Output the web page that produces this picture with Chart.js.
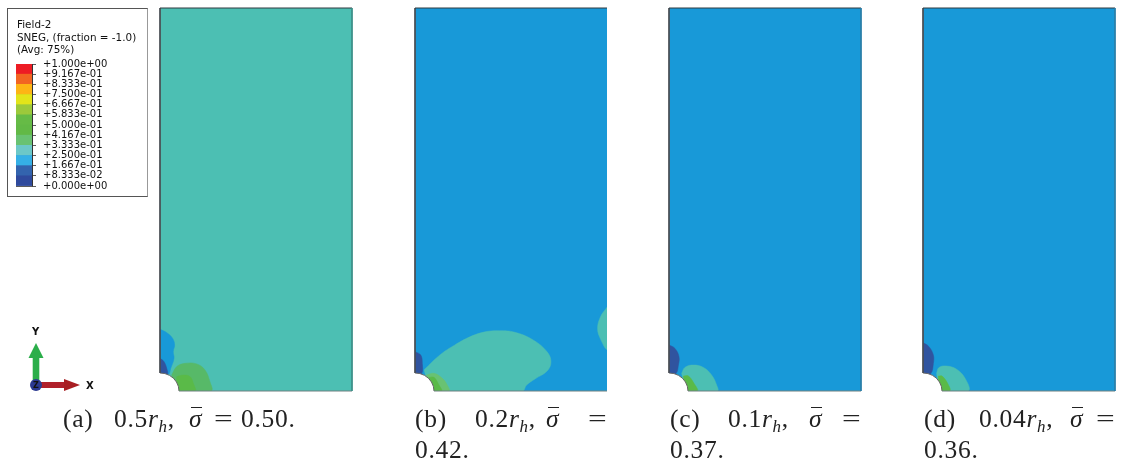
<!DOCTYPE html>
<html>
<head>
<meta charset="utf-8">
<title>SNEG contours</title>
<script src="https://cdn.jsdelivr.net/npm/chart.js@4"></script>
<style>
  html, body { margin: 0; padding: 0; background: #fff; }
  body { position: relative; width: 1126px; height: 462px; overflow: hidden; }
  canvas { position: absolute; filter: blur(0.45px); }
  .box { position: absolute; left: 7px; top: 8px; width: 139px; height: 187px; border: 1px solid #555; border-right-color: #999; }
  .t { position: absolute; white-space: nowrap; line-height: 1; filter: blur(0.3px); }
  .leg { font: 10.4px "DejaVu Sans", sans-serif; color: #111; }
  .axis { font: bold 10px "DejaVu Sans", sans-serif; color: #111; }
  .cap { font: 25.5px "Liberation Serif", serif; letter-spacing: 0.7px; color: #222; }
  .cap i sub { font-size: 17px; line-height: 0; vertical-align: -5px; }
  .bar { position: relative; display: inline-block; font-style: italic; }
  .bar::before { content: ""; position: absolute; left: 2px; right: 0; top: 3px; height: 1px; background: #222; }
  .eq { transform: scaleX(1.3); transform-origin: left center; }
</style>
</head>
<body>
<div class="box"></div>
<canvas id="legendBar" style="left:10px;top:51px"></canvas>
<canvas id="triad" style="left:20px;top:335px"></canvas>
<canvas id="panelA" style="left:159px;top:7px"></canvas>
<canvas id="panelB" style="left:414px;top:7px"></canvas>
<canvas id="panelC" style="left:668px;top:7px"></canvas>
<canvas id="panelD" style="left:922px;top:7px"></canvas>

<div class="t leg" style="left:17px;top:18px">Field-2</div>
<div class="t leg" style="left:17px;top:31px">SNEG, (fraction = -1.0)</div>
<div class="t leg" style="left:17px;top:43px">(Avg: 75%)</div>

<div class="t axis" style="left:32px;top:326px">Y</div>
<div class="t axis" style="left:86px;top:380px">X</div>
<div class="t axis" style="left:33px;top:381px;font-size:8px">Z</div>

<div class="t cap" style="left:63px;top:404px">(a)</div>
<div class="t cap" style="left:114px;top:404px">0.5<i>r<sub>h</sub></i>,</div>
<div class="t cap" style="left:189px;top:404px"><span class="bar">σ</span></div>
<div class="t cap eq" style="left:214px;top:404px">=</div>
<div class="t cap" style="left:241px;top:404px">0.50.</div>

<div class="t cap" style="left:415px;top:404px">(b)</div>
<div class="t cap" style="left:475px;top:404px">0.2<i>r<sub>h</sub></i>,</div>
<div class="t cap" style="left:546px;top:404px"><span class="bar">σ</span></div>
<div class="t cap eq" style="left:588px;top:404px">=</div>
<div class="t cap" style="left:415px;top:435px">0.42.</div>

<div class="t cap" style="left:670px;top:404px">(c)</div>
<div class="t cap" style="left:728px;top:404px">0.1<i>r<sub>h</sub></i>,</div>
<div class="t cap" style="left:809px;top:404px"><span class="bar">σ</span></div>
<div class="t cap eq" style="left:842px;top:404px">=</div>
<div class="t cap" style="left:670px;top:435px">0.37.</div>

<div class="t cap" style="left:924px;top:404px">(d)</div>
<div class="t cap" style="left:979px;top:404px">0.04<i>r<sub>h</sub></i>,</div>
<div class="t cap" style="left:1070px;top:404px"><span class="bar">σ</span></div>
<div class="t cap eq" style="left:1096px;top:404px">=</div>
<div class="t cap" style="left:924px;top:435px">0.36.</div>

<script>
// colour bar
const levelValues = [0, 0.08333, 0.1667, 0.25, 0.3333, 0.4167, 0.5, 0.5833, 0.6667, 0.75, 0.8333, 0.9167, 1];
const tickLabels = ['+0.000e+00', '+8.333e-02', '+1.667e-01', '+2.500e-01', '+3.333e-01', '+4.167e-01',
  '+5.000e-01', '+5.833e-01', '+6.667e-01', '+7.500e-01', '+8.333e-01', '+9.167e-01', '+1.000e+00'];
const levelColors = ['#2f4a9d', '#3364ae', '#35b0e6', '#6cc8c8', '#69c272', '#62b946',
  '#66bb46', '#9cc93b', '#e3e41a', '#fdb515', '#f26522', '#ed1c24'];

const teal = '#4cbfb3';
const blue = '#1899d8';
const darkBlue = '#30549f';
const softGreen = '#57b968';
const green = '#5aba48';

// outlines in model units, hole centre at 0,0
const plate = [[0, 0], [100, 0], [100, 199.5], [0, 199.5]];
const hole = [[9.9, 0], [9.56, 2.43], [8.57, 4.7], [7, 6.65], [4.95, 8.14], [2.56, 9.08], [0, 9.4], [0, 0]];
const holeArc = [[9.9, 0], [9.56, 2.43], [8.57, 4.7], [7, 6.65], [4.95, 8.14], [2.56, 9.08], [0, 9.4]];
const leftEdge = [[0, 199.5], [0, 9.4]];
const bottomEdge = [[9.9, 0], [100, 0]];
const topEdge = [[0, 199.5], [100, 199.5]];
const rightEdge = [[100, 199.5], [100, 0]];

const aLightBlue = [[0, 32.1], [3.5, 30.4], [6.6, 27.4], [7.6, 23.9], [6.9, 20.5], [7.3, 17], [5.6, 11.8], [4.3, 8.5], [0, 8]];
const aDarkBlue = [[0, 17], [2.1, 15.3], [3.5, 11.8], [3.8, 8.5], [0, 8]];
const aOuterGreen = [[6.1, 8.3], [8.7, 12.7], [13, 14.4], [19.1, 14.1], [23.4, 11], [26, 4.9], [26.6, 0], [9, 0]];
const aInnerGreen = [[8.7, 7.5], [12.2, 8.3], [15.6, 7.5], [17.4, 3.9], [18.2, 0], [9, 0]];

const bTeal = [[4.7, 11], [13, 18.8], [20.8, 24], [28.6, 28.2], [36.5, 30.8], [44, 31.4], [52, 30.6], [61.5, 26.6],
  [68.8, 20.4], [70.8, 15.1], [68.8, 10.4], [62.5, 6.3], [58, 3], [56, 0], [9, 0]];
const bBulge = [[100, 43.6], [96.7, 38.8], [95.1, 32.6], [96.7, 26.9], [100, 21.9]];
const bDarkBlue = [[0, 20.5], [3, 18.7], [3.8, 14.4], [3.5, 9], [0, 8]];
const bOuterGreen = [[5.9, 8.3], [9.9, 9.2], [14.2, 6.6], [16.8, 3.1], [17.7, 0], [9, 0]];
const bInnerGreen = [[7.3, 7.1], [9.9, 7.1], [12.5, 3.1], [13.9, 0], [9, 0]];

const cDarkBlue = [[0, 24], [3.1, 22.2], [5.2, 17.9], [4.9, 13.5], [3.6, 9], [0, 8]];
const cTeal = [[6.6, 9.2], [8.3, 12.3], [12.7, 13.5], [17.9, 12.3], [22.2, 8.3], [24.8, 3.1], [25.2, 0], [9, 0]];
const cGreen = [[7.5, 7.8], [10.1, 7.8], [13, 4], [14.8, 0], [9, 0]];

const dDarkBlue = [[0, 25.2], [3.1, 23.1], [5.4, 18.7], [5.4, 14.4], [4, 9], [0, 8]];
const dTeal = [[7.1, 9.2], [8.3, 12.2], [12.3, 13], [17.5, 11.3], [21.9, 6.6], [23.6, 0], [9, 0]];
const dGreen = [[7.9, 7.8], [9.9, 7.8], [12.8, 4], [14, 0], [9, 0]];

// triad arrows, origin at the Z dot
const yShaft = [[-3.3, 0], [3.3, 0], [3.3, 27], [-3.3, 27]];
const yHead = [[-7.5, 27], [7.5, 27], [0, 42]];
const xShaft = [[0, -3], [28, -3], [28, 3], [0, 3]];
const xHead = [[28, -6], [44, 0], [28, 6]];
const zDot = [[0, 0]];

function shape(points, color, edge, width) {
  return {
    data: points.concat([points[0]]).map(p => ({ x: p[0], y: p[1] })),
    showLine: true,
    fill: 'shape',
    backgroundColor: color,
    borderColor: edge || color,
    borderWidth: width === undefined ? 0.5 : width,
    pointRadius: 0,
    tension: 0.4
  };
}

function stroke(points, color, width) {
  return {
    data: points.map(p => ({ x: p[0], y: p[1] })),
    showLine: true,
    fill: false,
    borderColor: color,
    borderWidth: width,
    pointRadius: 0,
    tension: 0,
    clip: false
  };
}

function panel(id, base, regions, rightColor) {
  const canvas = document.getElementById(id);
  canvas.width = 194;
  canvas.height = 385;
  canvas.style.width = '194px';
  canvas.style.height = '385px';
  const list = [shape(plate, base, base, 0)];
  list[0].tension = 0;
  regions.forEach(r => list.push(shape(r[0], r[1])));
  const h = shape(hole, '#ffffff', '#ffffff', 0);
  h.tension = 0;
  list.push(h);
  list.push(stroke(holeArc, '#666666', 1));
  list.push(stroke(leftEdge, '#4a4f55', 1));
  list.push(stroke(bottomEdge, '#6f8080', 1));
  list.push(stroke(topEdge, '#2f3a40', 1));
  if (rightColor) list.push(stroke(rightEdge, rightColor, 1));
  new Chart(canvas, {
    type: 'scatter',
    data: { datasets: list.reverse() },
    options: {
      responsive: false,
      animation: false,
      layout: { padding: 1, autoPadding: false },
      plugins: { legend: { display: false }, tooltip: { enabled: false } },
      scales: {
        x: { type: 'linear', min: 0, max: 100, display: false },
        y: { type: 'linear', min: 0, max: 199.5, display: false }
      }
    }
  });
}

panel('panelA', teal, [
  [aLightBlue, blue], [aDarkBlue, darkBlue], [aOuterGreen, softGreen], [aInnerGreen, green]
], '#3c8f88');
panel('panelB', blue, [
  [bTeal, teal], [bBulge, teal], [bDarkBlue, darkBlue], [bOuterGreen, '#69c272'], [bInnerGreen, green]
], null);
panel('panelC', blue, [
  [cDarkBlue, darkBlue], [cTeal, teal], [cGreen, green]
], '#2a7fa8');
panel('panelD', blue, [
  [dDarkBlue, darkBlue], [dTeal, teal], [dGreen, green]
], '#2a7fa8');

// legend colour bar, axis ticks carry the level labels
const barCanvas = document.getElementById('legendBar');
barCanvas.width = 110;
barCanvas.height = 148;
barCanvas.style.width = '110px';
barCanvas.style.height = '148px';
new Chart(barCanvas, {
  type: 'bar',
  data: {
    labels: ['SNEG'],
    datasets: levelColors.map((c, i) => ({
      data: [[levelValues[i], levelValues[i + 1]]],
      backgroundColor: c,
      barPercentage: 1,
      categoryPercentage: 1,
      grouped: false
    }))
  },
  options: {
    responsive: false,
    animation: false,
    layout: { padding: { left: 6, top: 0, bottom: 0, right: 0 } },
    plugins: { legend: { display: false }, tooltip: { enabled: false } },
    scales: {
      x: { display: false },
      y: {
        position: 'right',
        min: 0,
        max: 1,
        afterBuildTicks: s => { s.ticks = levelValues.map(v => ({ value: v })); },
        afterFit: s => { s.width = 88; },
        border: { color: '#333' },
        grid: { color: '#333', lineWidth: 0.8, tickLength: 4 },
        ticks: {
          autoSkip: false,
          padding: 7,
          color: '#111',
          font: { family: 'DejaVu Sans', size: 10 },
          callback: (v, i) => tickLabels[i]
        }
      }
    }
  }
});

// coordinate triad
const triadCanvas = document.getElementById('triad');
triadCanvas.width = 70;
triadCanvas.height = 60;
triadCanvas.style.width = '70px';
triadCanvas.style.height = '60px';
const triadSets = [
  shape(yShaft, '#2bae4a', null, 0), shape(yHead, '#2bae4a', null, 0),
  shape(xShaft, '#b0202a', null, 0), shape(xHead, '#a81e22', null, 0),
  { data: zDot.map(p => ({ x: p[0], y: p[1] })), pointRadius: 6, backgroundColor: '#2b3990', borderWidth: 0 }
];
triadSets.forEach(s => { s.tension = 0; });
new Chart(triadCanvas, {
  type: 'scatter',
  data: { datasets: triadSets.reverse() },
  options: {
    responsive: false,
    animation: false,
    layout: { autoPadding: false },
    plugins: { legend: { display: false }, tooltip: { enabled: false } },
    scales: {
      x: { type: 'linear', min: -16, max: 54, display: false },
      y: { type: 'linear', min: -10, max: 50, display: false }
    }
  }
});
</script>
</body>
</html>
